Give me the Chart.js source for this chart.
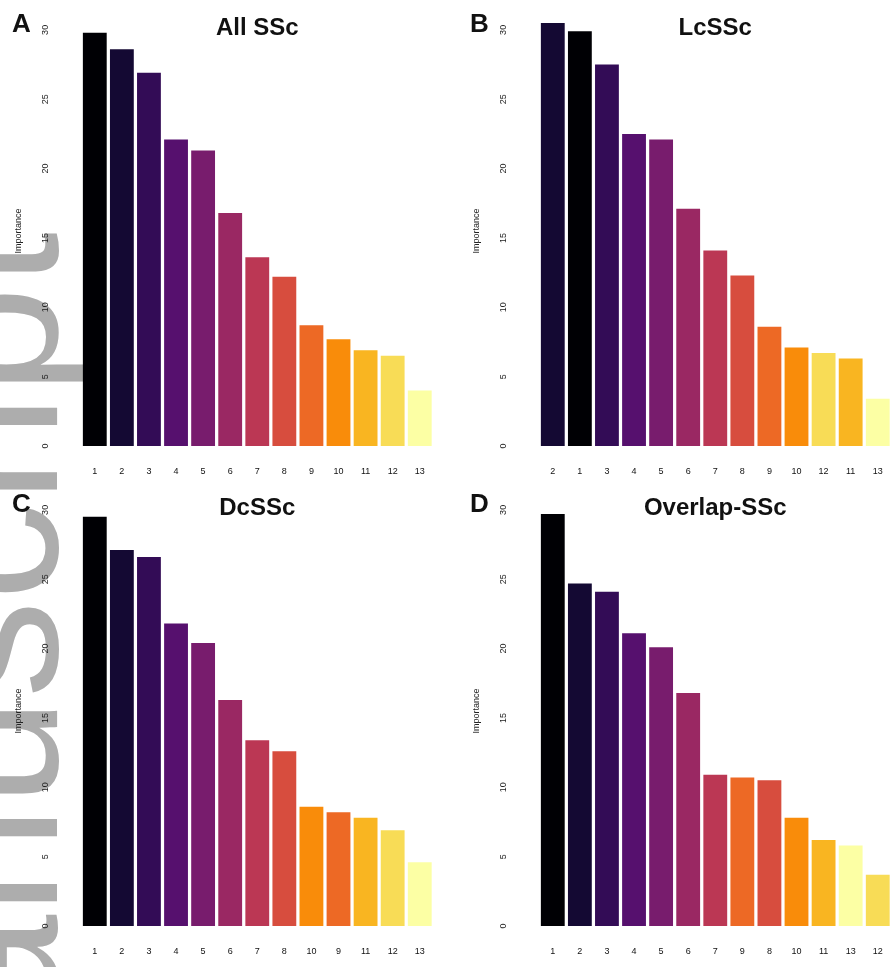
<!DOCTYPE html>
<html>
<head>
<meta charset="utf-8">
<script src="https://cdn.jsdelivr.net/npm/chart.js@4/dist/chart.umd.min.js"></script>
<style>
  html, body { margin: 0; padding: 0; width: 891px; height: 967px; overflow: hidden; background: #fff; }
  .panel { position: absolute; }
  #watermark {
    position: absolute; right: 999px; top: 232px;
    transform-origin: 100% 0; transform: rotate(-90deg);
    font: 195px "Liberation Sans", Arial, sans-serif; line-height: 1;
    color: #adadad; white-space: nowrap;
  }
</style>
</head>
<body>
<div id="watermark">Author Manuscript</div>
<div class="panel" style="left:0;top:0"><canvas id="chartA" width="445" height="485"></canvas></div>
<div class="panel" style="left:458px;top:0"><canvas id="chartB" width="445" height="485"></canvas></div>
<div class="panel" style="left:0;top:480px"><canvas id="chartC" width="445" height="485"></canvas></div>
<div class="panel" style="left:458px;top:480px"><canvas id="chartD" width="445" height="485"></canvas></div>
<script>
// y axis ticks (shown rotated, like base R)
const yTicks = [0, 5, 10, 15, 20, 25, 30];
const yTitle = "Importance";

// inferno colours, one per feature number 1..13
const palette = ["#000004", "#140933", "#330c56", "#56106e", "#781c6d", "#9a2863", "#bb3754",
                 "#d74d3e", "#ed6925", "#f98c0a", "#f9b521", "#f8dc56", "#fcffa4"];

const labelsA = ["1","2","3","4","5","6","7","8","9","10","11","12","13"];
const valuesA = [29.8, 28.6, 26.9, 22.1, 21.3, 16.8, 13.6, 12.2, 8.7, 7.7, 6.9, 6.5, 4.0];

const labelsB = ["2","1","3","4","5","6","7","8","9","10","12","11","13"];
const valuesB = [30.5, 29.9, 27.5, 22.5, 22.1, 17.1, 14.1, 12.3, 8.6, 7.1, 6.7, 6.3, 3.4];

const labelsC = ["1","2","3","4","5","6","7","8","10","9","11","12","13"];
const valuesC = [29.5, 27.1, 26.6, 21.8, 20.4, 16.3, 13.4, 12.6, 8.6, 8.2, 7.8, 6.9, 4.6];

const labelsD = ["1","2","3","4","5","6","7","9","8","10","11","13","12"];
const valuesD = [29.7, 24.7, 24.1, 21.1, 20.1, 16.8, 10.9, 10.7, 10.5, 7.8, 6.2, 5.8, 3.7];

const FONT = '"Liberation Sans", Arial, sans-serif';

// rotated y tick labels + panel letter + title
const decorPlugin = {
  id: "decor",
  afterDraw(chart, args, opts) {
    const { ctx, chartArea } = chart;
    const y = chart.scales.y;
    ctx.save();
    ctx.fillStyle = "#222";
    ctx.font = "9px " + FONT;
    ctx.textAlign = "center";
    ctx.textBaseline = "middle";
    yTicks.forEach(v => {
      ctx.save();
      ctx.translate(chartArea.left - 36, y.getPixelForValue(v));
      ctx.rotate(-Math.PI / 2);
      ctx.fillText(String(v), 0, 0);
      ctx.restore();
    });
    ctx.fillStyle = "#111";
    ctx.font = "bold 24px " + FONT;
    ctx.fillText(opts.title, (chartArea.left + chartArea.right) / 2, chartArea.top + 12);
    ctx.textAlign = "left";
    ctx.font = "bold 26px " + FONT;
    ctx.fillText(opts.letter, 12, chartArea.top + 9);
    ctx.restore();
  }
};

function makePanel(id, letter, title, labels, values) {
  new Chart(document.getElementById(id), {
    type: "bar",
    data: {
      labels,
      datasets: [{
        data: values,
        backgroundColor: labels.map(l => palette[parseInt(l) - 1]),
        borderWidth: 0,
        categoryPercentage: 1,
        barPercentage: 0.88
      }]
    },
    options: {
      responsive: false,
      animation: false,
      layout: { padding: { left: 8, right: 6.25, top: 16, bottom: 9 } },
      plugins: {
        legend: { display: false },
        tooltip: { enabled: false },
        decor: { letter, title }
      },
      scales: {
        x: {
          grid: { display: false, drawTicks: false },
          border: { display: false },
          ticks: { color: "#111", font: { family: FONT, size: 9 }, padding: 20, maxRotation: 0, autoSkip: false },
          afterFit: s => { s.height = 30; }
        },
        y: {
          min: 0, max: 31,
          grid: { display: false, drawTicks: false },
          border: { display: false },
          ticks: { display: false },
          title: { display: true, text: yTitle, color: "#222", font: { family: FONT, size: 9 }, padding: 5 },
          afterFit: s => { s.width = 73.25; }
        }
      }
    },
    plugins: [decorPlugin]
  });
}

makePanel("chartA", "A", "All SSc", labelsA, valuesA);
makePanel("chartB", "B", "LcSSc", labelsB, valuesB);
makePanel("chartC", "C", "DcSSc", labelsC, valuesC);
makePanel("chartD", "D", "Overlap-SSc", labelsD, valuesD);
</script>
</body>
</html>
